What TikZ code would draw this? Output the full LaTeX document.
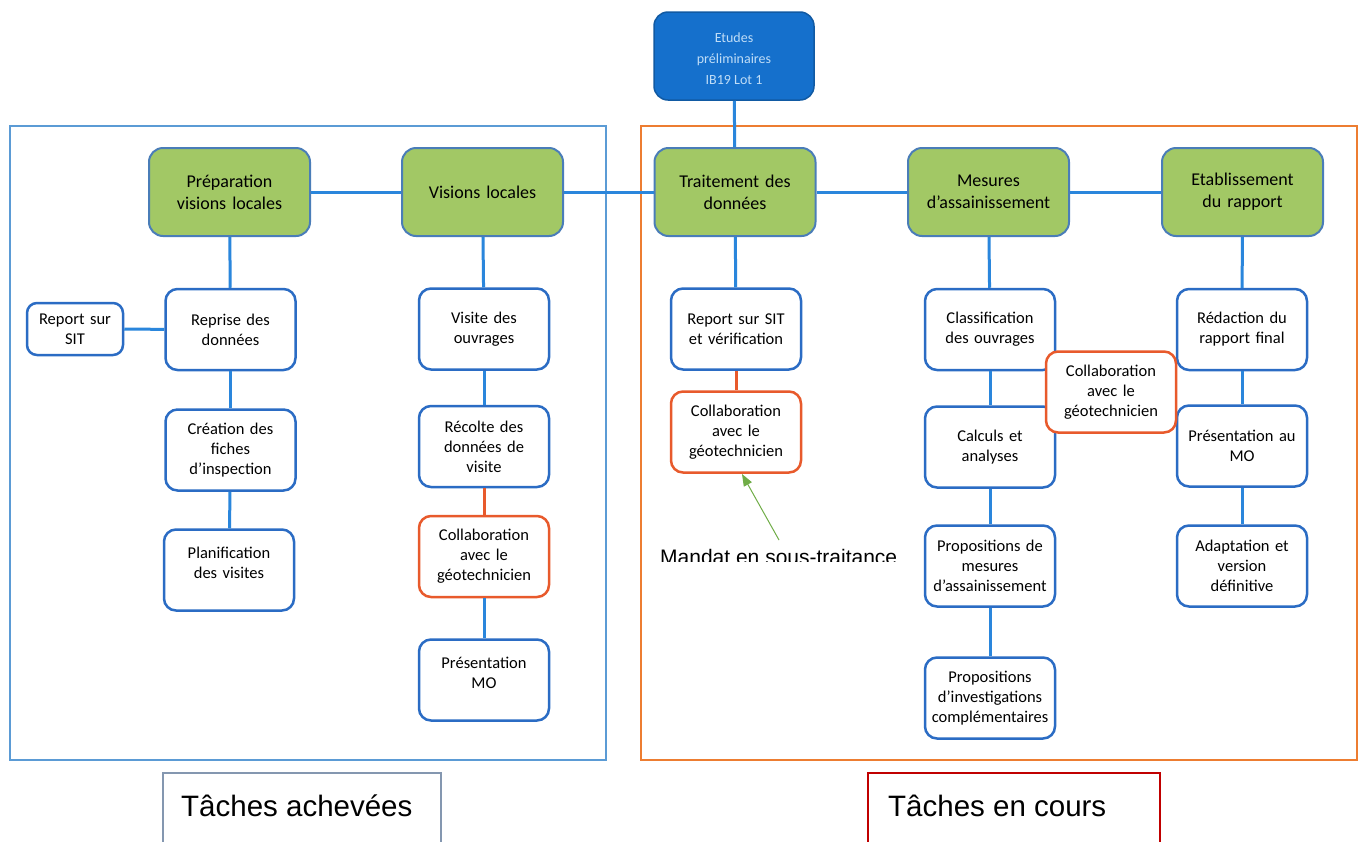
\documentclass[tikz,border=0pt]{standalone}
\usepackage{fontspec}
\setmainfont{Carlito}
\newfontfamily\arialf{Liberation Sans}
\usetikzlibrary{arrows.meta}
\definecolor{connblue}{HTML}{2A86DC}
\definecolor{boxblue}{HTML}{2B6CC4}
\definecolor{greenfill}{HTML}{A2C865}
\definecolor{greenborder}{HTML}{4A7DB8}
\definecolor{topfill}{HTML}{1570CC}
\definecolor{toptext}{HTML}{BFDDF7}
\definecolor{orbox}{HTML}{E85A2C}
\definecolor{panelblue}{HTML}{5B9BD5}
\definecolor{panelorange}{HTML}{ED7D31}
\definecolor{leggray}{HTML}{8497B0}
\definecolor{legred}{HTML}{C00000}
\definecolor{arrgreen}{HTML}{70AD47}
\tikzset{
  wbox/.style={draw=boxblue, line width=2.5pt, rounded corners=12pt, fill=white,
    minimum width=130pt, minimum height=81pt, align=center, text width=128pt,
    font=\fontsize{16.5}{20}\selectfont, inner sep=0pt},
  obox/.style={wbox, draw=orbox},
  btext/.style={align=center, text width=128pt, font=\fontsize{16.5}{20}\selectfont, inner sep=0pt},
  gbox/.style={draw=greenborder, line width=2pt, rounded corners=14pt, fill=greenfill,
    minimum width=161pt, minimum height=88pt, align=center, text width=155pt,
    font=\fontsize{18}{22}\selectfont, inner sep=0pt},
  topbox/.style={draw=topfill!80!black, line width=1.5pt, rounded corners=14pt, fill=topfill,
    minimum width=160pt, minimum height=88pt, align=center, text width=150pt,
    text=toptext, font=\fontsize{14}{21}\selectfont, inner sep=0pt},
  conn/.style={draw=connblue, line width=3pt},
  oconn/.style={draw=orbox, line width=3pt},
  panel/.style={line width=2.5pt},
}
\begin{document}
\begin{tikzpicture}[x=1pt,y=-1pt]
\useasboundingbox (0,0) rectangle (1359,841);
\clip (0,0) rectangle (1359,841);
\fill[white] (0,0) rectangle (1359,841);

% panels
\draw[panel, draw=panelblue] (10,126) rectangle (606,760);
\draw[panel, draw=panelorange] (641,126) rectangle (1357,760);

% nodes
\node[topbox] (top) at (734,56) {};
\node[align=center, text=toptext, font=\fontsize{14}{21}\selectfont, inner sep=0pt] (toptxt) at (734,59) {Etudes\\préliminaires\\IB19 Lot 1};

\node[gbox] (prep) at (229.5,192) {Préparation\\visions locales};
\node[gbox] (vis) at (482.5,192) {Visions locales};
\node[gbox] (trait) at (735,192) {Traitement des\\données};
\node[gbox] (mes) at (988.5,192) {Mesures\\d’assainissement};
\node[gbox] (etab) at (1242.5,192) {Etablissement\\du rapport};

\node[wbox, minimum width=96pt, minimum height=52pt, text width=92pt, rounded corners=10pt] (rsit) at (75,329) {Report sur\\SIT};
\node[wbox] (rep) at (230.5,329.5) {Reprise des\\données};
\node[wbox] (crea) at (230.5,450) {Création des\\fiches\\d’inspection};
\node[wbox] (plan) at (229,570) {};
\node[btext] (plant) at (229,563) {Planification\\des visites};

\node[wbox] (visite) at (484,329) {Visite des\\ouvrages};
\node[wbox] (recolte) at (484,446.5) {Récolte des\\données de\\visite};
\node[obox] (colA) at (484,556.5) {Collaboration\\avec le\\géotechnicien};
\node[wbox] (presmo) at (484,680) {};
\node[btext] (presmot) at (484,673) {Présentation\\MO};

\node[wbox] (rsitv) at (736,329) {Report sur SIT\\et vérification};
\node[obox] (colB) at (736,432) {Collaboration\\avec le\\géotechnicien};

\node[wbox] (classif) at (990,329.5) {Classification\\des ouvrages};
\node[wbox] (calc) at (990,447) {Calculs et\\analyses};
\node[wbox] (propm) at (990,566) {Propositions de\\mesures\\d’assainissement};
\node[wbox] (propi) at (990,698) {Propositions\\d’investigations\\complémentaires};

\node[wbox] (redac) at (1242,329.5) {Rédaction du\\rapport final};
\node[wbox] (presau) at (1242,446) {Présentation au\\MO};
\node[wbox] (adapt) at (1242,566) {Adaptation et\\version\\définitive};

\node[obox] (colC) at (1111,392) {Collaboration\\avec le\\géotechnicien};

% connectors
\draw[conn] (top) -- (trait);
\draw[conn] (prep) -- (vis);
\draw[conn] (vis) -- (trait);
\draw[conn] (trait) -- (mes);
\draw[conn] (mes) -- (etab);
\draw[conn] (prep) -- (rep);
\draw[conn] (rsit) -- (rep);
\draw[conn] (rep) -- (crea);
\draw[conn] (crea) -- (plan);
\draw[conn] (vis) -- (visite);
\draw[conn] (visite) -- (recolte);
\draw[oconn] (recolte) -- (colA);
\draw[conn] (colA) -- (presmo);
\draw[conn] (trait) -- (rsitv);
\draw[oconn] (rsitv) -- (colB);
\draw[conn] (mes) -- (classif);
\draw[conn] (classif) -- (calc);
\draw[conn] (calc) -- (propm);
\draw[conn] (propm) -- (propi);
\draw[conn] (etab) -- (redac);
\draw[conn] (redac) -- (presau);
\draw[conn] (presau) -- (adapt);

% annotation
\begin{scope}
\clip (600,530) rectangle (960,561);
\node[anchor=base west, inner sep=0pt, font=\arialf\fontsize{21}{25}\selectfont] (mandat) at (660,564) {Mandat en sous-traitance};
\end{scope}
\coordinate (arrstart) at (779,540);
\coordinate (arrtip) at (742,474);
\draw[draw=arrgreen, line width=1pt, -{Triangle[length=12pt,width=9pt]}] (arrstart) -- (arrtip);

% legend
\node[draw=leggray, line width=1.5pt, minimum width=278pt, minimum height=80pt, inner sep=0pt] (lega) at (302,813) {};
\node[anchor=base west, inner sep=0pt, font=\arialf\fontsize{29.5}{33}\selectfont] (legat) at (181,816) {Tâches achevées};
\node[draw=legred, line width=1.5pt, minimum width=292pt, minimum height=80pt, inner sep=0pt] (legb) at (1014,813) {};
\node[anchor=base west, inner sep=0pt, font=\arialf\fontsize{29.5}{33}\selectfont] (legbt) at (888,816) {Tâches en cours};
\end{tikzpicture}
\end{document}
